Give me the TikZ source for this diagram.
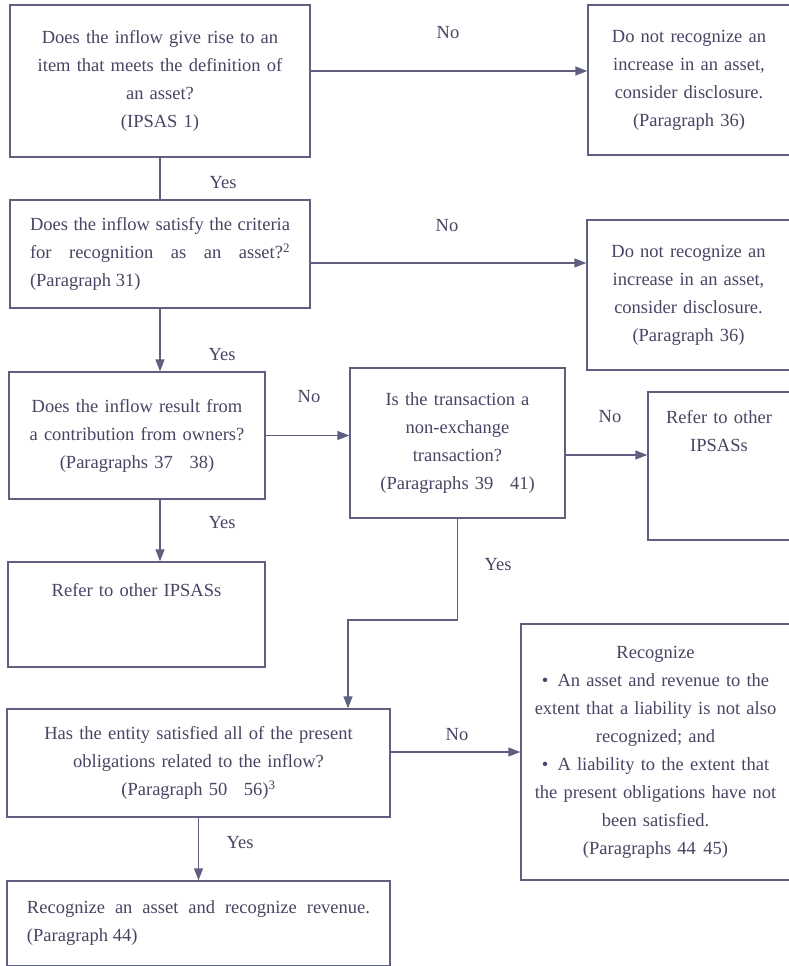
\documentclass[tikz,border=0pt]{standalone}
\usepackage{fontspec}
\setmainfont{Liberation Serif}
\usepackage{xcolor}
\usepackage{tikz}
\usetikzlibrary{arrows.meta}
\definecolor{inkline}{RGB}{95,95,130}
\definecolor{inktext}{RGB}{70,70,100}
\tikzset{
  FlowBox/.style={
    rectangle, draw=inkline, line width=1.4pt,
    inner sep=0pt, align=center, text=inktext,
    font=\fontsize{18.5}{28}\selectfont,
  },
  FlowArrow/.style={draw=inkline, line width=1.4pt, -{Triangle[length=12pt,width=9pt]}},
  FlowLine/.style={draw=inkline, line width=1.4pt},
  Answer/.style={text=inktext, inner sep=0pt, font=\fontsize{18.5}{22}\selectfont},
}

\begin{document}
\begin{tikzpicture}[x=1pt,y=-1pt]
\path[use as bounding box, fill=white] (0,0) rectangle (788,966);
\node[FlowBox, minimum width=300pt, minimum height=152pt, text width=290pt] (Q1) at (160,81) {Does the inflow give rise to an\\item that meets the definition of\\an asset?\\(IPSAS 1)};
\node[FlowBox, minimum width=202pt, minimum height=150pt, text width=190pt] (R1) at (689,80) {Do not recognize an\\increase in an asset,\\consider disclosure.\\(Paragraph 36)};
\node[FlowBox, minimum width=300pt, minimum height=108pt, text width=260pt, align=justify] (Q2) at (160,254) {Does the inflow satisfy the criteria\linebreak for recognition as an asset?\textsuperscript{2}\linebreak (Paragraph 31)};
\node[FlowBox, minimum width=203pt, minimum height=150pt, text width=190pt] (R2) at (688.5,295) {Do not recognize an\\increase in an asset,\\consider disclosure.\\(Paragraph 36)};
\node[FlowBox, minimum width=256pt, minimum height=127pt, text width=240pt] (Q3) at (137,435.5) {Does the inflow result from\\a contribution from owners?\\(Paragraphs 37\hspace{0.9em}38)};
\node[FlowBox, minimum width=215pt, minimum height=150pt, text width=200pt] (Q4) at (457.5,443) {Is the transaction a\\non-exchange\\transaction?\\(Paragraphs 39\hspace{0.9em}41)};
\node[FlowBox, minimum width=142pt, minimum height=148pt, text width=130pt] (R4) at (719,466) {Refer to other\\IPSASs\\[42pt]\mbox{}};
\node[FlowBox, minimum width=257pt, minimum height=105pt, text width=240pt] (R3) at (136.5,614.5) {Refer to other IPSASs\\[21pt]\mbox{}};
\node[FlowBox, minimum width=383pt, minimum height=108pt, text width=370pt] (Q5) at (198.5,763) {Has the entity satisfied all of the present\\obligations related to the inflow?\\(Paragraph 50\hspace{0.9em}56)\textsuperscript{3}};
\node[FlowBox, minimum width=269pt, minimum height=256pt, text width=260pt] (R5) at (655.5,752) {Recognize\\\textbullet\enspace An asset and revenue to the\\extent that a liability is not also\\recognized; and\\\textbullet\enspace A liability to the extent that\\the present obligations have not\\been satisfied.\\(Paragraphs 44\hspace{0.4em}45)};
\node[FlowBox, minimum width=383pt, minimum height=85pt, text width=343pt, align=justify] (R6) at (198.5,923.5) {Recognize an asset and recognize revenue.\linebreak (Paragraph 44)};

\coordinate (turn) at (348,620);
\draw[FlowArrow] ([yshift=10pt]Q1.east) -- ([yshift=10pt]Q1.east -| R1.west);
\draw[FlowLine] (Q1.south) -- (Q2.north);
\draw[FlowArrow] ([yshift=-9pt]Q2.east) -- ([yshift=-9pt]Q2.east -| R2.west);
\draw[FlowArrow] (Q2.south) -- (Q2.south |- Q3.north);
\draw[FlowArrow] (Q3.east) -- (Q3.east -| Q4.west);
\draw[FlowArrow] ([yshift=-12pt]Q4.east) -- ([yshift=-12pt]Q4.east -| R4.west);
\draw[FlowArrow] (Q2.south |- Q3.south) -- (Q2.south |- R3.north);
\draw[FlowArrow] (Q4.south) |- (turn) -- (turn |- Q5.north);
\draw[FlowArrow] (R5.west -| Q5.east) -- (R5.west);
\draw[FlowArrow] (Q5.south) -- (R6.north);

\node[Answer] (no1) at (448,33) {No};
\node[Answer] (yes1) at (223,183) {Yes};
\node[Answer] (no2) at (447,226) {No};
\node[Answer] (yes2) at (222,355) {Yes};
\node[Answer] (no3) at (309,397) {No};
\node[Answer] (yes3) at (222,523) {Yes};
\node[Answer] (no4) at (610,417) {No};
\node[Answer] (yes4) at (498,565) {Yes};
\node[Answer] (no5) at (457,735) {No};
\node[Answer] (yes5) at (240,843) {Yes};
\end{tikzpicture}
\end{document}
